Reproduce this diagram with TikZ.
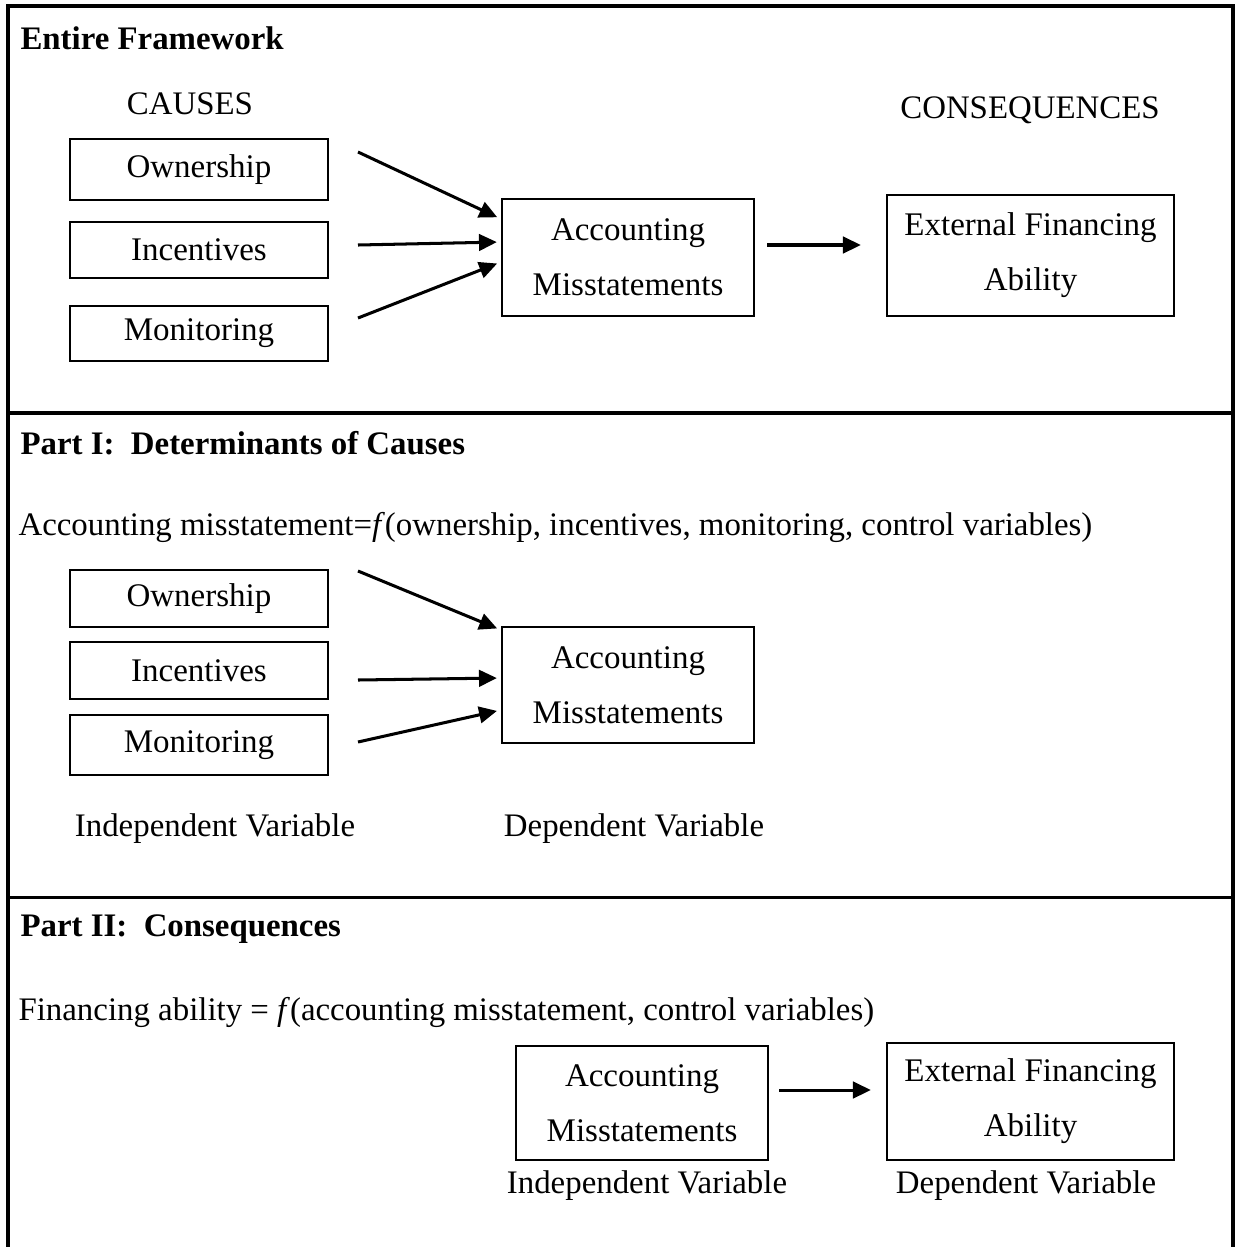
\documentclass[tikz,border=0pt]{standalone}
\usepackage{fontspec}
\setmainfont{Liberation Serif}
\usetikzlibrary{arrows.meta}
\def\u{0.3636pt}
\begin{document}
\begin{tikzpicture}[x=\u,y=-\u,
  box/.style={draw, line width=0.75pt, inner sep=0pt, align=center, font=\fontsize{12}{20}\selectfont},
  arr/.style={line width=1.1pt, -{Triangle[length=6.5pt,width=6pt]}, shorten >=1.5pt},
  frame/.style={line width=1.1pt},
  txt/.style={inner sep=0pt, font=\fontsize{11.95}{14}\selectfont},
  head/.style={txt, font=\fontsize{11.95}{14}\selectfont\bfseries, anchor=west}
  ]
\useasboundingbox (0,0) rectangle (1237,1247);

% frame
\draw[frame] (8,1247) -- (8,6) -- (1233,6) -- (1233,1247);
\draw[frame] (8,413) -- (1233,413);
\draw[frame] (8,897) -- (1233,897);

% ---------- Entire Framework ----------
\node[head] (h1) at (20,38) {Entire Framework};
\node[txt] (causes) at (190,104) {CAUSES};
\node[txt] (conseq) at (1030,110) {CONSEQUENCES};

\node[box, minimum width=258*\u, minimum height=61*\u] (own1) at (199,169.5) {Ownership};
\node[box, minimum width=258*\u, minimum height=56*\u] (inc1) at (199,250) {Incentives};
\node[box, minimum width=258*\u, minimum height=55*\u] (mon1) at (199,333.5) {Monitoring};
\node[box, minimum width=252*\u, minimum height=117*\u] (acc1) at (628,257.5) {Accounting\\Misstatements};
\node[box, minimum width=287*\u, minimum height=121*\u] (ext1) at (1030.5,255.5) {External Financing\\Ability};

\coordinate (s1) at (358,152);
\coordinate (s2) at (358,245);
\coordinate (s3) at (358,318);
\draw[arr] (s1) -- ([yshift=38.5*\u]acc1.west);
\draw[arr] (s2) -- ([yshift=15.5*\u]acc1.west);
\draw[arr] (s3) -- ([yshift=-4.5*\u]acc1.west);
\draw[arr] ([shift={(12,-12.5)}]acc1.east) -- ([shift={(-21,-10.5)}]ext1.west);

% ---------- Part I ----------
\node[head] (h2) at (20,443) {Part I:\hspace{0.5em}Determinants of Causes};
\node[txt, anchor=west] (eq1) at (18,527) {Accounting misstatement=\textit{f}(ownership, incentives, monitoring, control variables)};

\node[box, minimum width=258*\u, minimum height=57*\u] (own2) at (199,598.5) {Ownership};
\node[box, minimum width=258*\u, minimum height=57*\u] (inc2) at (199,670.5) {Incentives};
\node[box, minimum width=258*\u, minimum height=60*\u] (mon2) at (199,745) {Monitoring};
\node[box, minimum width=252*\u, minimum height=116*\u] (acc2) at (628,685) {Accounting\\Misstatements};

\coordinate (t1) at (358,571);
\coordinate (t2) at (358,680);
\coordinate (t3) at (358,742);
\draw[arr] (t1) -- ([yshift=55*\u]acc2.west);
\draw[arr] (t2) -- ([yshift=7*\u]acc2.west);
\draw[arr] (t3) -- ([yshift=-25*\u]acc2.west);

\node[txt] (iv1) at (215,829) {Independent Variable};
\node[txt] (dv1) at (634,829) {Dependent Variable};

% ---------- Part II ----------
\node[head] (h3) at (20,929) {Part II:\hspace{0.5em}Consequences};
\node[txt, anchor=west] (eq2) at (18,1012) {Financing ability = \textit{f}(accounting misstatement, control variables)};

\node[box, minimum width=252*\u, minimum height=114*\u] (acc3) at (642,1103) {Accounting\\Misstatements};
\node[box, minimum width=287*\u, minimum height=117*\u] (ext3) at (1030.5,1101.5) {External Financing\\Ability};
\draw[arr] ([shift={(10,-13)}]acc3.east) -- ([shift={(-11,-11.5)}]ext3.west);

\node[txt] (iv2) at (647,1186) {Independent Variable};
\node[txt] (dv2) at (1026,1186) {Dependent Variable};
\end{tikzpicture}
\end{document}
